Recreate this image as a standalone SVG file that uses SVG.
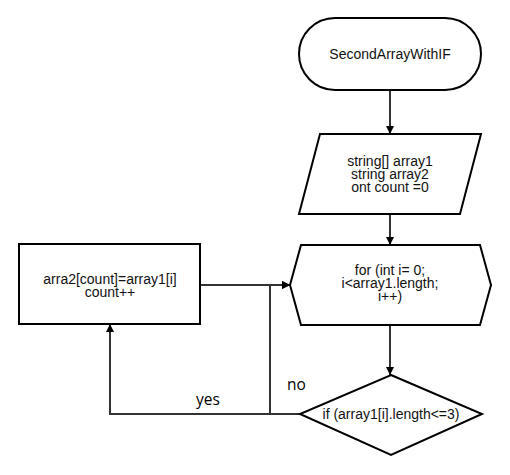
<svg xmlns="http://www.w3.org/2000/svg" width="510" height="475" viewBox="0 0 510 475">
  <style>
    .shape { fill: #ffffff; stroke: #000000; stroke-width: 2; }
    .label { font-family: "Liberation Sans", Arial, sans-serif; font-size: 14px; fill: #111111; text-anchor: middle; }
    .edge { fill: none; stroke: #333333; stroke-width: 2; }
    .edge-label { font-family: "Open Sans", "DejaVu Sans", sans-serif; font-size: 15.5px; fill: #000000; }
  </style>
  <defs>
    <marker id="arrow" viewBox="0 0 10 10" refX="10" refY="5" markerWidth="4" markerHeight="4" orient="auto" markerUnits="strokeWidth">
      <path d="M0,0 L10,5 L0,10 z" fill="#000000"/>
    </marker>
  </defs>
  <rect width="510" height="475" fill="#ffffff"/>

  <g id="connectors">
    <line class="edge" x1="390" y1="90" x2="390" y2="134" marker-end="url(#arrow)"/>
    <line class="edge" x1="390" y1="214" x2="390" y2="245" marker-end="url(#arrow)"/>
    <line class="edge" x1="390" y1="325" x2="390" y2="375" marker-end="url(#arrow)"/>
    <line class="edge" x1="200" y1="285" x2="290" y2="285" marker-end="url(#arrow)"/>
    <polyline class="edge" points="300,414 270,414 270,285 290,285" marker-end="url(#arrow)"/>
    <polyline class="edge" points="300,414 110,414 110,324" marker-end="url(#arrow)"/>
    <text class="edge-label" x="287" y="390">no</text>
    <text class="edge-label" x="196" y="405">yes</text>
  </g>

  <g id="start">
    <rect class="shape" x="299" y="18" width="182" height="72" rx="36" ry="36"/>
    <text class="label" x="390" y="59">SecondArrayWithIF</text>
  </g>

  <g id="declarations">
    <polygon class="shape" points="320,134 481,134 460,214 299,214"/>
    <text class="label" x="390" y="166">string[] array1</text>
    <text class="label" x="390" y="179">string array2</text>
    <text class="label" x="390" y="192">ont count =0</text>
  </g>

  <g id="loop">
    <polygon class="shape" points="301,245 480,245 491,285 480,325 301,325 290,285"/>
    <text class="label" x="390" y="275">for (int i= 0;</text>
    <text class="label" x="390" y="288">i&lt;array1.length;</text>
    <text class="label" x="390" y="301">i++)</text>
  </g>

  <g id="assign">
    <rect class="shape" x="19" y="244" width="181" height="80"/>
    <text class="label" x="110" y="284">arra2[count]=array1[i]</text>
    <text class="label" x="110" y="297">count++</text>
  </g>

  <g id="condition">
    <polygon class="shape" points="391,375 482,414 391,455 300,414"/>
    <text class="label" x="391" y="419">if (array1[i].length&lt;=3)</text>
  </g>
</svg>
